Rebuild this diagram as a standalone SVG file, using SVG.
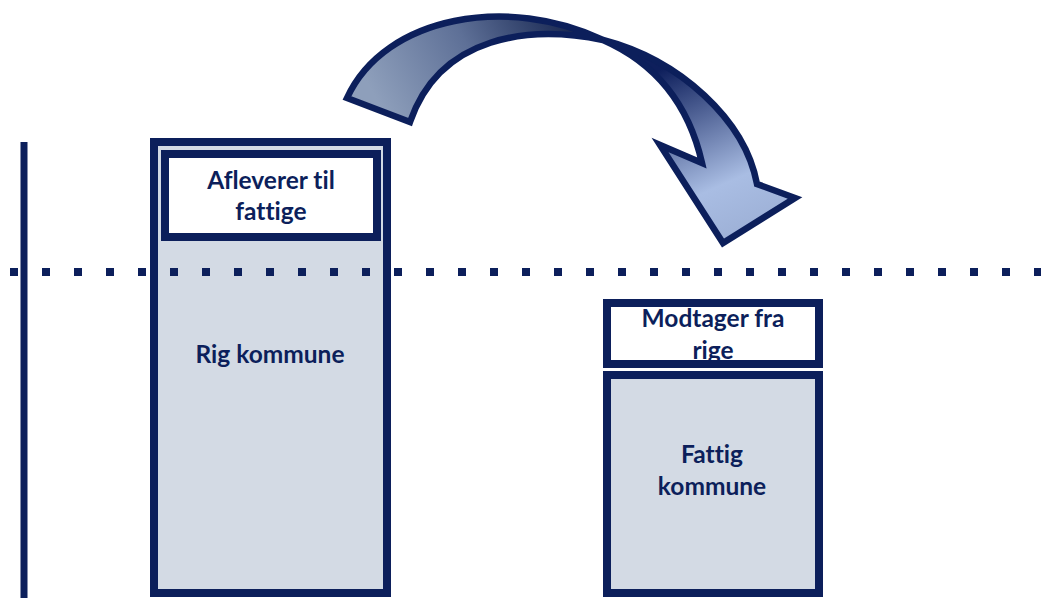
<svg xmlns="http://www.w3.org/2000/svg" width="1041" height="598" viewBox="0 0 1041 598">
<style>
.box{stroke:#0C1F5B;stroke-width:8}
.fill{fill:#D3DAE4}
.white{fill:#FFFFFF}
.t{font-family:Lato,"Open Sans","Liberation Sans",sans-serif;font-weight:bold;font-size:24.5px;fill:#0C1F5B;text-anchor:middle;font-variant-ligatures:none}
.arrow{stroke:#0C1F5B;stroke-width:6.5;stroke-linejoin:miter}
</style>
<defs>
<linearGradient id="gL" gradientUnits="userSpaceOnUse" x1="385" y1="115" x2="570" y2="15">
<stop offset="0" stop-color="#8E9FBB"/>
<stop offset="0.5" stop-color="#5E7097"/>
<stop offset="1" stop-color="#15244F"/>
</linearGradient>
<linearGradient id="gR" gradientUnits="userSpaceOnUse" x1="660" y1="70" x2="735" y2="240">
<stop offset="0" stop-color="#0E1F5C"/>
<stop offset="0.7" stop-color="#A9BDE3"/>
<stop offset="1" stop-color="#9DB0D6"/>
</linearGradient>
</defs>
<g id="axis">
<line x1="24" y1="142" x2="24" y2="598" stroke="#0C1F5B" stroke-width="7"/>
</g>
<g id="rig">
<rect class="box fill" x="154" y="142" width="233" height="451"/>
<rect class="box white" x="165" y="154" width="212" height="83"/>
<text class="t" x="271" y="189">Afleverer til</text>
<text class="t" x="271" y="220">fattige</text>
<text class="t" x="270" y="363">Rig kommune</text>
</g>
<g id="fattig">
<rect class="box white" x="607" y="303" width="212" height="61"/>
<rect class="box fill" x="607" y="375" width="212" height="218"/>
<text class="t" x="713" y="327">Modtager fra</text>
<text class="t" x="713" y="359">rige</text>
<text class="t" x="712" y="463">Fattig</text>
<text class="t" x="712" y="495">kommune</text>
</g>
<g id="connectors">
<line x1="10" y1="272" x2="1041" y2="272" stroke="#0C1F5B" stroke-width="8" stroke-dasharray="8 24"/>
<path class="arrow" fill="url(#gL)" d="M347,98 C385,15 510,-5 603,40 C530,25 440,35 410,122 Z"/>
<path class="arrow" fill="url(#gR)" d="M603,40 C680,60 745,120 757,184 L795,198 L723,243 L660,145 L702,163 C690,110 660,65 603,40 Z"/>
</g>
</svg>
